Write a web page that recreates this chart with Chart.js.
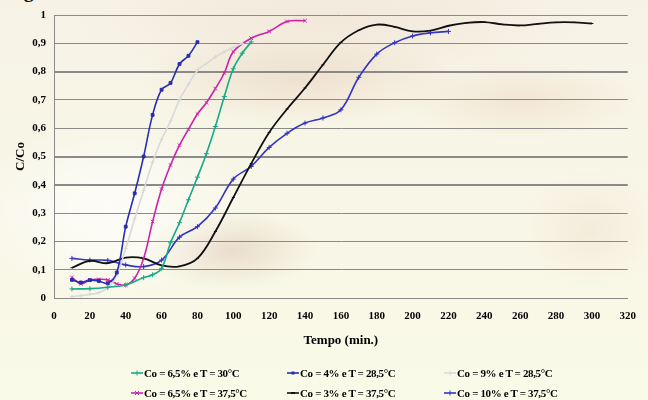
<!DOCTYPE html>
<html><head><meta charset="utf-8">
<script src="https://cdn.jsdelivr.net/npm/chart.js@4.4.1/dist/chart.umd.min.js"></script>
<style>
html,body{margin:0;padding:0;}
body{width:648px;height:400px;overflow:hidden;position:relative;
background:
 radial-gradient(ellipse 140px 90px at 110px 210px, rgba(255,255,255,0.75), rgba(255,255,255,0) 100%),
 radial-gradient(ellipse 90px 40px at 230px 250px, rgba(205,170,150,0.35), rgba(205,170,150,0) 100%),
 radial-gradient(ellipse 160px 45px at 300px 80px, rgba(225,190,165,0.35), rgba(225,190,165,0) 100%),
 radial-gradient(ellipse 120px 40px at 520px 100px, rgba(230,195,170,0.30), rgba(230,195,170,0) 100%),
 radial-gradient(ellipse 70px 60px at 590px 230px, rgba(235,205,190,0.30), rgba(235,205,190,0) 100%),
 radial-gradient(ellipse 260px 70px at 330px 20px, rgba(235,215,200,0.40), rgba(235,215,200,0) 100%),
 linear-gradient(#f6f3e6, #fafae8);}
#c{position:absolute;left:0;top:0;}
.leg{position:absolute;font:bold 11px "Liberation Serif";letter-spacing:-0.35px;white-space:nowrap;color:#000;height:14px;line-height:14px;display:flex;align-items:center;}
.leg svg{margin-right:1px;}
#fig{position:absolute;left:6px;top:-21px;font:bold 20px "Liberation Serif";color:#111;}
</style></head>
<body>
<div id="fig">Figura</div>
<canvas id="c" width="648" height="400"></canvas>
<div id="legend"></div>
<script>
// ---- data ----
const xTickLabels = ['0','20','40','60','80','100','120','140','160','180','200','220','240','260','280','300','320'];
const yTickLabels = ['0','0,1','0,2','0,3','0,4','0,5','0,6','0,7','0,8','0,9','1'];

const seriesNames = ['Co = 6,5% e T = 30°C','Co = 4% e T = 28,5°C','Co = 9% e T = 28,5°C',
                     'Co = 6,5% e T = 37,5°C','Co = 3% e T = 37,5°C','Co = 10% e T = 37,5°C'];

const tGreen = [10,20,30,40,50,55,60,65,70,75,80,85,90,95,100,105,110];
const cGreen = [0.032,0.033,0.038,0.046,0.072,0.082,0.105,0.195,0.266,0.347,0.427,0.51,0.606,0.712,0.81,0.865,0.905];

const tBlue4 = [10,15,20,25,30,35,40,45,50,55,60,65,70,75,80];
const cBlue4 = [0.064,0.055,0.063,0.06,0.052,0.09,0.252,0.37,0.5,0.647,0.736,0.76,0.827,0.856,0.904];

const tGray9 = [10,15,20,25,30,35,40,45,50,55,60,65,70,75,80,85,90,95,100,105];
const cGray9 = [0.005,0.008,0.013,0.019,0.035,0.08,0.175,0.28,0.38,0.48,0.56,0.625,0.70,0.755,0.805,0.828,0.852,0.87,0.885,0.9];

const tPink = [10,15,20,25,30,35,40,45,50,55,60,65,70,75,80,85,90,95,100,110,120,130,140];
const cPink = [0.073,0.05,0.064,0.066,0.064,0.05,0.046,0.07,0.14,0.27,0.385,0.47,0.54,0.596,0.65,0.69,0.74,0.795,0.87,0.918,0.942,0.977,0.98];

const tBlack = [10,20,30,40,50,60,70,80,90,100,110,120,130,140,150,160,170,180,190,200,210,220,230,240,250,260,270,280,290,300];
const cBlack = [0.107,0.131,0.123,0.143,0.14,0.115,0.112,0.14,0.235,0.355,0.475,0.585,0.668,0.742,0.824,0.903,0.946,0.966,0.958,0.942,0.945,0.962,0.972,0.975,0.967,0.963,0.969,0.974,0.974,0.97];

const tBlue10 = [10,20,30,40,50,60,70,80,90,100,110,120,130,140,150,160,170,180,190,200,210,220];
const cBlue10 = [0.14,0.134,0.133,0.117,0.111,0.134,0.215,0.252,0.318,0.42,0.465,0.532,0.582,0.618,0.636,0.665,0.78,0.862,0.902,0.926,0.937,0.942];

// ---- styles ----
const colors = ['#18a987','#2a2db0','#d9d9d9','#cc22aa','#111111','#3434c0'];
const markers = ['cross','rect','cross','crossRot','line','cross'];
const radii = [2.5,2,2,2.5,1.5,2.5];
const xs = [tGreen,tBlue4,tGray9,tPink,tBlack,tBlue10];
const ys = [cGreen,cBlue4,cGray9,cPink,cBlack,cBlue10];

const datasets = seriesNames.map((n,i)=>({
  label:n,
  data: xs[i].map((t,j)=>({x:t,y:ys[i][j]})),
  borderColor: colors[i],
  backgroundColor: colors[i],
  borderWidth: i===4 ? 1.8 : 1.6,
  pointStyle: markers[i],
  pointRadius: radii[i],
  pointBorderWidth: 1,
  pointBorderColor: colors[i],
  pointBackgroundColor: colors[i],
  tension: 0.38,
  fill:false
}));

const font = {family:'"Liberation Serif", "Times New Roman", serif', weight:'bold', size:11};
const titleFont = {family:'"Liberation Serif", "Times New Roman", serif', weight:'bold', size:13};

new Chart(document.getElementById('c'), {
  type:'line',
  data:{datasets},
  options:{
    responsive:false, animation:false,
    layout:{padding:{left:0,right:12,top:15,bottom:0}},
    plugins:{legend:{display:false}, tooltip:{enabled:false}},
    scales:{
      x:{type:'linear', min:0, max:320,
        ticks:{stepSize:20, padding:12, color:'#000', font, maxRotation:0, autoSkip:false,
          callback:(v,i)=>xTickLabels[i]},
        grid:{color:'rgba(0,0,0,0)', drawTicks:false},
        border:{display:true, color:'#8a8a8a', width:1},
        title:{display:true, text:'Tempo (min.)', color:'#000', font:titleFont, padding:{top:0,bottom:52}},
        afterFit:(s)=>{s.height=102;}
      },
      y:{type:'linear', min:0, max:1,
        ticks:{stepSize:0.1, padding:8, color:'#000', font,
          callback:(v,i)=>yTickLabels[i]},
        grid:{color:'#8a8a8a', drawTicks:false,
          lineWidth:(ctx)=>{const v=Math.round((ctx.tick?ctx.tick.value:0)*10); return (v===4||v===5||v===8)?2:1;}},
        border:{display:true, color:'#8a8a8a', width:1},
        title:{display:true, text:'C/Co', color:'#000', font:titleFont, padding:{top:13,bottom:0}},
        afterFit:(s)=>{s.width=54;}
      }
    }
  }
});

// ---- legend ----
const legPos = [[131,366],[287,366],[444,366],[131,386],[287,386],[444,386]];
function markerSvg(i){
  const c = colors[i];
  let m='';
  if(markers[i]==='cross') m=`<line x1="6" y1="1.5" x2="6" y2="6.5" stroke="${c}" stroke-width="1"/>`;
  else if(markers[i]==='rect') m=`<rect x="4.5" y="2.5" width="3" height="3" fill="${c}"/>`;
  else if(markers[i]==='crossRot') m=`<line x1="4" y1="2" x2="8" y2="6" stroke="${c}" stroke-width="1"/><line x1="8" y1="2" x2="4" y2="6" stroke="${c}" stroke-width="1"/>`;
  else m=`<line x1="4" y1="4" x2="8" y2="4" stroke="${c}" stroke-width="2"/>`;
  return `<svg width="12" height="8" viewBox="0 0 12 8"><line x1="0" y1="4" x2="12" y2="4" stroke="${c}" stroke-width="1.6"/>${m}</svg>`;
}
const lg = document.getElementById('legend');
seriesNames.forEach((n,i)=>{
  const d=document.createElement('div');
  d.className='leg';
  d.style.left=legPos[i][0]+'px';
  d.style.top=legPos[i][1]+'px';
  d.innerHTML=markerSvg(i)+'<span>'+n+'</span>';
  lg.appendChild(d);
});
</script>
</body></html>
